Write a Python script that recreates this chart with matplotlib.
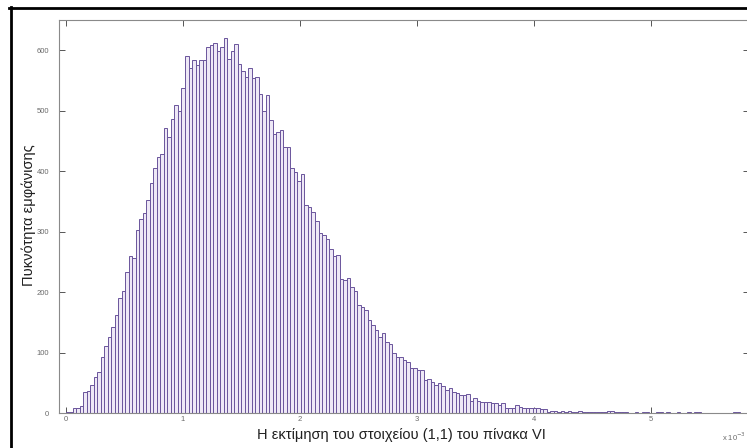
import numpy as np
import matplotlib
matplotlib.use("Agg")
import matplotlib.pyplot as plt
from matplotlib.lines import Line2D

plt.rcParams['font.family'] = ['Liberation Sans', 'DejaVu Sans']

# ---- data ----
bin_start = 0.0
bin_width = 0.03
counts = [
    1, 1, 8, 9, 12, 34, 36, 46, 59, 68,
    93, 111, 126, 142, 162, 191, 202, 233, 260, 257,
    302, 321, 331, 353, 380, 405, 424, 429, 472, 457,
    487, 509, 500, 537, 590, 570, 584, 576, 584, 584,
    606, 609, 612, 598, 606, 620, 585, 598, 610, 578,
    565, 556, 570, 554, 555, 528, 500, 526, 485, 461,
    464, 468, 440, 440, 405, 399, 383, 396, 344, 341,
    333, 318, 298, 294, 287, 272, 259, 261, 221, 220,
    224, 208, 201, 179, 176, 171, 154, 146, 137, 126,
    133, 118, 114, 100, 93, 92, 88, 85, 74, 74,
    71, 71, 55, 57, 52, 46, 49, 44, 38, 42,
    34, 33, 30, 30, 31, 20, 24, 20, 19, 19,
    18, 16, 16, 13, 17, 9, 8, 9, 13, 10,
    9, 8, 8, 8, 9, 6, 6, 2, 4, 4,
    2, 3, 2, 3, 2, 2, 3, 2, 2, 1,
    2, 2, 1, 2, 3, 4, 2, 1, 1, 1,
    0, 0, 1, 0, 1, 1, 0, 0, 1, 1,
    0, 1, 0, 0, 1, 0, 0, 1, 0, 1,
    1, 0, 0, 0, 0, 0, 0, 0, 0, 0,
    1, 1,
]
x_ticks = [0, 1, 2, 3, 4, 5]
y_ticks = [0, 100, 200, 300, 400, 500, 600]
x_label = "Η εκτίμηση του στοιχείου (1,1) του πίνακα VI"
y_label = "Πυκνότητα εμφάνισης"
exp_label = "x 10$^{-3}$"

# ---- figure ----
W, H = 747, 448
fig = plt.figure(figsize=(W / 100, H / 100), dpi=100)
fig.patch.set_facecolor('white')

ax = fig.add_axes([59 / W, (H - 413) / H, 690 / W, 393 / H])

counts_arr = np.array(counts, dtype=float)
lefts = bin_start + bin_width * np.arange(len(counts_arr))
mask = counts_arr > 0
ax.bar(lefts[mask], counts_arr[mask], width=bin_width, align='edge',
       facecolor='#EEE8F6', edgecolor='#6A559C', linewidth=0.7, zorder=2)

ax.set_xlim(-0.056, 5.836)
ax.set_ylim(0, 650)
ax.set_xticks(x_ticks)
ax.set_yticks(y_ticks)

grey = '#8a8a8a'
for s in ax.spines.values():
    s.set_color(grey)
    s.set_linewidth(0.8)
    s.set_zorder(3)
ax.tick_params(axis='both', direction='in', length=4.3, width=0.7,
               color='#555555', labelcolor='#6a6a6a', labelsize=5.5,
               top=True, right=True)
ax.tick_params(axis='x', pad=2.5)
ax.tick_params(axis='y', pad=7)

ax.set_xlabel(x_label, fontsize=10.5, color='#202020')
ax.xaxis.label.set_va('center')
ax.xaxis.set_label_coords(0.497, -0.057)
ax.set_ylabel(y_label, fontsize=10.5, color='#202020')
ax.yaxis.label.set_va('center')
ax.yaxis.set_label_coords(-0.0435, 0.504)

fig.text(745.5 / W, 1 - 437 / H, exp_label, ha='right', va='center',
         fontsize=5.5, color='#6a6a6a')

# black frame of the pasted picture (left and top edges)
fig.add_artist(Line2D([10.7 / W, 10.7 / W], [0, 1 - 6.7 / H],
                      transform=fig.transFigure, color='black', linewidth=2.0))
fig.add_artist(Line2D([9.3 / W, 1], [1 - 8 / H, 1 - 8 / H],
                      transform=fig.transFigure, color='black', linewidth=2.0))

fig.savefig('out.png', dpi=100)
